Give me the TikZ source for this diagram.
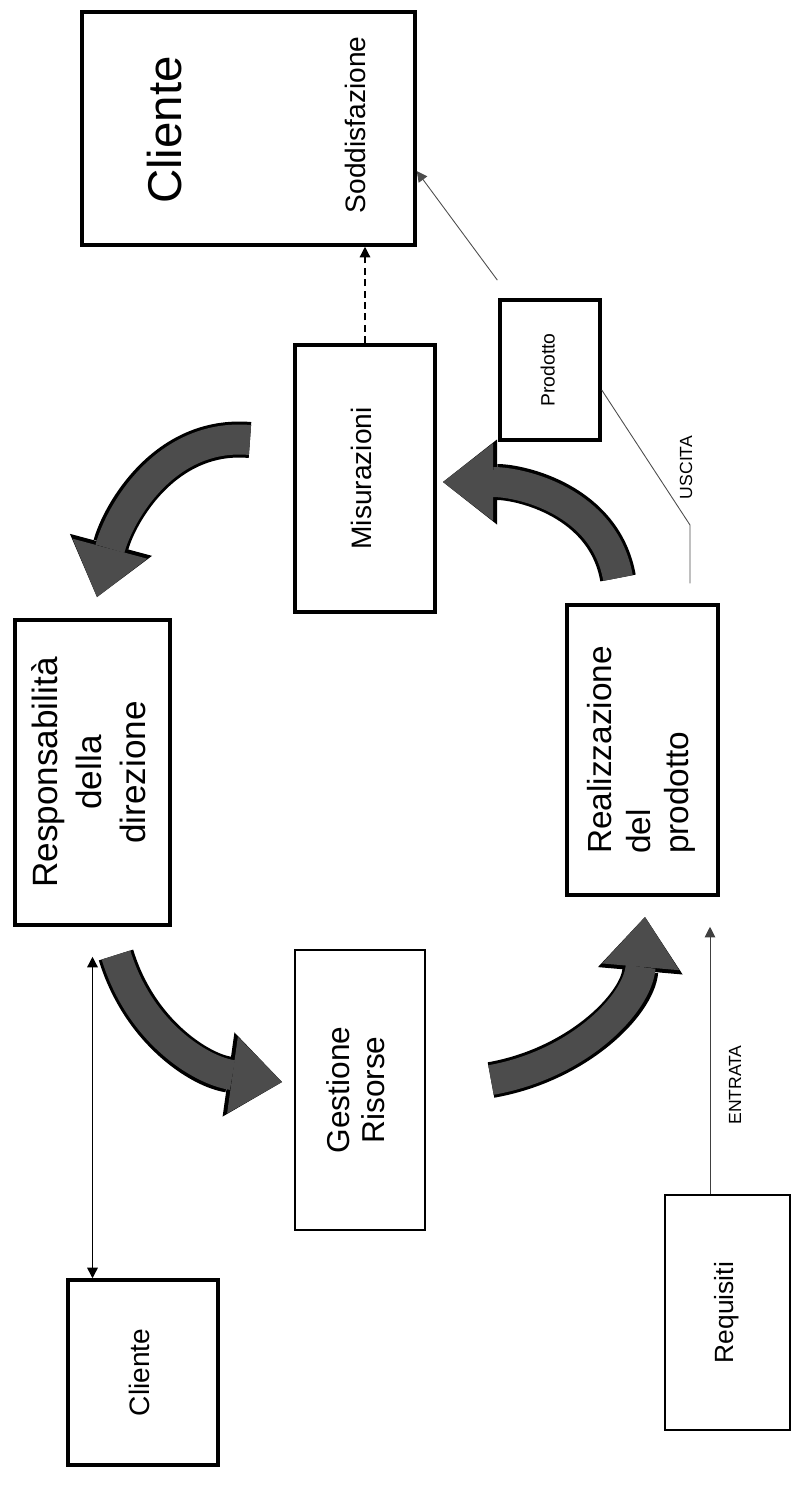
\documentclass[tikz,border=0pt]{standalone}
\usepackage{fontspec}
\setmainfont{Liberation Sans}
\usetikzlibrary{arrows.meta, calc}

\newcommand{\vlabel}[2][c]{\rotatebox{90}{\begin{tabular}{@{}#1@{}}#2\end{tabular}}}

\begin{document}
\begin{tikzpicture}[
    box/.style={rectangle, draw=black, line width=2pt, inner sep=0pt, align=center},
    thinbox/.style={box, line width=1pt},
    arr/.style={-{Triangle[length=6pt, width=6pt]}, line width=0.7pt},
    flow/.style={line width=0.6cm, draw=black!70,
                 -{Triangle[length=1.0cm, width=1.55cm, line width=0pt]},
                 preaction={draw=black, line width=0.72cm,
                   -{Triangle[length=1.08cm, width=1.7cm, line width=0pt]}}},
    tag/.style={rotate=90, font=\fontsize{10}{12}\selectfont}
  ]
    \useasboundingbox (0,0) rectangle (16,-30.04);

    % boxes
    \node[box, minimum width=6.66cm, minimum height=4.66cm] (cliTop) at (4.97,-2.57) {};
    \node[rotate=90, font=\fontsize{27}{30}\selectfont] (cliTopName) at (3.3,-2.6) {Cliente};
    \node[rotate=90, font=\fontsize{16}{19}\selectfont] (sodd) at (7.1,-2.5) {Soddisfazione};

    \node[box, minimum width=2.8cm, minimum height=5.34cm, font=\fontsize{16}{19}\selectfont]
      (mis) at (7.3,-9.57) {\vlabel{Misurazioni\hspace{0.9cm}}};
    \node[box, minimum width=2.0cm, minimum height=2.8cm, font=\fontsize{11}{13}\selectfont]
      (prod) at (11,-7.4) {\vlabel{Prodotto}};
    \node[box, minimum width=3.02cm, minimum height=5.8cm, font=\fontsize{19}{22}\selectfont]
      (real) at (12.85,-15.0) {\vlabel[l]{Realizzazione\\del\\prodotto}};
    \node[box, minimum width=3.1cm, minimum height=6.1cm, font=\fontsize{20}{25}\selectfont]
      (resp) at (1.85,-15.45) {\vlabel{Responsabilità\\della\\direzione}};
    \node[thinbox, minimum width=2.6cm, minimum height=5.6cm, font=\fontsize{18}{20}\selectfont]
      (gest) at (7.2,-21.8) {\vlabel{Gestione\\Risorse}};
    \node[thinbox, minimum width=2.5cm, minimum height=4.7cm, font=\fontsize{15}{18}\selectfont]
      (req) at (14.55,-26.25) {\vlabel{Requisiti\hspace{2cm}}};
    \node[box, minimum width=3.0cm, minimum height=3.7cm, font=\fontsize{16}{18}\selectfont]
      (cliBot) at (2.86,-27.45) {\vlabel{Cliente}};

    % thin connectors
    \draw[arr, dash pattern=on 4pt off 2.5pt] (mis.north) -- (mis.north |- cliTop.south);
    \draw[arr, line width=0.5pt, draw=black!70, shorten <=0.45cm]
      ([xshift=0.25cm]prod.north west) -- ($(cliTop.south east)!0.32!(cliTop.north east)$);

    \coordinate (uscBend) at (13.8,-10.5);
    \draw[line width=0.5pt, black!70] ([yshift=-0.4cm]prod.east) -- (uscBend)
      -- ([yshift=0.4cm]real.north -| uscBend);
    \node[tag] (uscita) at (13.72,-9.35) {USCITA};

    \draw[arr, line width=0.5pt, draw=black!75, shorten >=0.6cm]
      ([xshift=-0.35cm]req.north) -- ([xshift=-0.35cm]req.north |- real.south);
    \node[tag] (entrata) at (14.7,-21.7) {ENTRATA};

    \draw[{Triangle[length=6pt, width=6pt]}-{Triangle[length=6pt, width=6pt]},
          line width=0.8pt, shorten <=0.6cm] (resp.south) -- (resp.south |- cliBot.north);

    % cycle arrows
    \coordinate (f1a) at (5.0,-8.8);
    \coordinate (f1b) at (1.94,-11.94);
    \coordinate (f2a) at (2.32,-19.1);
    \coordinate (f2b) at (5.64,-21.64);
    \coordinate (f3a) at (9.82,-21.6);
    \coordinate (f3b) at (12.9,-18.34);
    \coordinate (f4a) at (12.36,-11.56);
    \coordinate (f4b) at (8.86,-9.64);

    \draw[flow] (f1a) to[out=175, in=75] (f1b);
    \draw[flow] (f2a) to[out=-73, in=172] (f2b);
    \draw[flow] (f3a) to[out=10, in=-95] (f3b);
    \draw[flow] (f4a) to[out=100, in=0] (f4b);
\end{tikzpicture}
\end{document}
